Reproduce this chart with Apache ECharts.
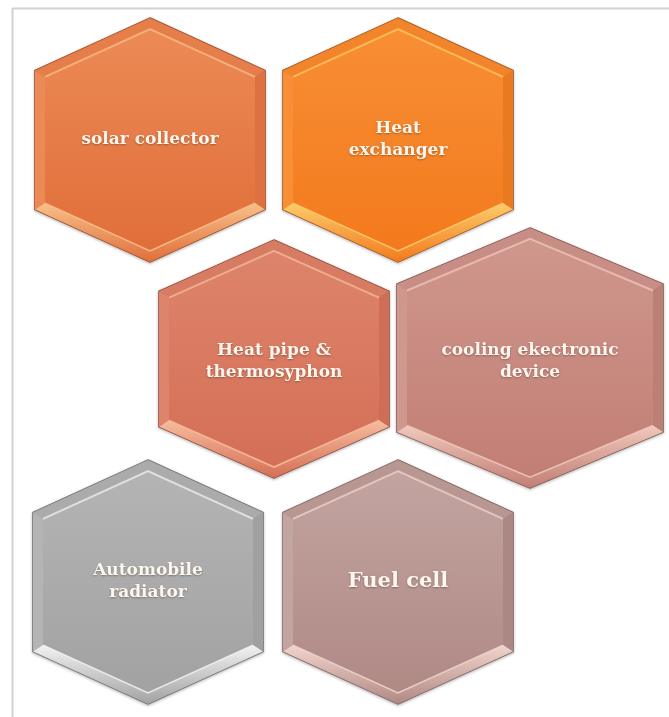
<!DOCTYPE html>
<html><head><meta charset="utf-8">
<script src="https://cdn.jsdelivr.net/npm/echarts@6/dist/echarts.min.js"></script>
<style>html,body{margin:0;padding:0;background:#fff}#c{width:669px;height:717px}</style>
</head><body><div id="c"></div>
<script>
// ---- data ----
const labels = ['solar collector', 'Heat\nexchanger', 'Heat pipe &\nthermosyphon', 'cooling ekectronic\ndevice', 'Automobile\nradiator', 'Fuel cell'];
const centerX = [150, 398, 274, 530, 148, 398];
const centerY = [140, 140, 359, 358, 582, 582];
const halfWidth = [115, 115, 115, 133, 115, 115];
const halfHeight = [122, 122, 119, 130, 122, 122];

// ---- styles ----
const palette = [
  {top:'#EC8A55', bottom:'#E06E3A', dark:'#9A4A25', light:'#F8C08A', side:'#DD7240', band:'#E57E4A'},
  {top:'#F88E35', bottom:'#F37A1C', dark:'#A0521A', light:'#FCCB6A', side:'#EA7A20', band:'#F2852C'},
  {top:'#DE846C', bottom:'#D46F56', dark:'#8E4A3A', light:'#F6BC9C', side:'#CE6E56', band:'#D77B63'},
  {top:'#CF978D', bottom:'#C27E74', dark:'#7E5650', light:'#F0C8BC', side:'#BC7F76', band:'#C88D84'},
  {top:'#B4B4B4', bottom:'#A2A2A2', dark:'#6E6E6E', light:'#F2F2F2', side:'#A0A0A0', band:'#ABABAB'},
  {top:'#C2A4A0', bottom:'#B08985', dark:'#7C605C', light:'#F2D4CC', side:'#AC8884', band:'#B89792'}
];
const fontSizes = [17, 17, 17, 17, 17, 21];
const textCenterShift = [0, 0, 3, 4, 0, 0];

const chart = echarts.init(document.getElementById('c'), null, {renderer:'canvas'});
const seriesData = labels.map((l, i) => [centerX[i], centerY[i], halfWidth[i], halfHeight[i], l]);

function renderItem(params, api) {
  const i = params.dataIndex;
  const cx = api.value(0), cy = api.value(1), w = api.value(2), h = api.value(3);
  const s = h * 0.57;
  const m = (h - s) / w;
  const k = Math.sqrt(1 + m * m);
  const d = 10;
  const P = (dx, dy) => api.coord([cx + dx, cy + dy]);
  const outer = [P(0, -h), P(w, -s), P(w, s), P(0, h), P(-w, s), P(-w, -s)];
  const iy = s - d * (k - m);
  const inner = [P(0, -h + d * k), P(w - d, -iy), P(w - d, iy), P(0, h - d * k), P(-w + d, iy), P(-w + d, -iy)];
  const c = palette[i];
  const band = (a, b, fill, op) => ({
    type:'polygon', shape:{points:[outer[a], outer[b], inner[b], inner[a]]},
    style:{fill:fill, opacity:op}
  });
  const tc = P(0, textCenterShift[i]);
  const children = [
    {type:'polygon', shape:{points:outer}, style:{fill:c.bottom, stroke:c.dark, lineWidth:1.5, shadowColor:'rgba(0,0,0,0.25)', shadowBlur:3, shadowOffsetY:1}},
    band(5, 0, c.band, 1),
    band(0, 1, c.band, 1),
    band(1, 2, c.side, 1),
    band(4, 5, c.top, 1),
    {type:'polygon', shape:{points:[outer[2], outer[3], inner[3], inner[2]]},
      style:{fill:new echarts.graphic.LinearGradient(0,1,0,0,[{offset:0,color:c.bottom},{offset:1,color:c.light}])}},
    {type:'polygon', shape:{points:[outer[3], outer[4], inner[4], inner[3]]},
      style:{fill:new echarts.graphic.LinearGradient(0,1,0,0,[{offset:0,color:c.bottom},{offset:1,color:c.light}])}},
    {type:'polygon', shape:{points:inner},
      style:{fill:new echarts.graphic.LinearGradient(0,0,0,1,[{offset:0,color:c.top},{offset:1,color:c.bottom}])}},
    {type:'polyline', shape:{points:[inner[5], inner[0], inner[1]]},
      style:{stroke:c.light, lineWidth:2, opacity:0.75, fill:null}},
    {type:'polyline', shape:{points:[inner[2], inner[3], inner[4]]},
      style:{stroke:c.light, lineWidth:1.5, opacity:0.9, fill:null}},
    {type:'text', style:{
      text:api.value(4), x:tc[0], y:tc[1],
      textAlign:'center', textVerticalAlign:'middle',
      font:'bold ' + fontSizes[i] + 'px "DejaVu Serif", serif',
      lineHeight: 22,
      fill:'#FFF6EE', textShadowColor:'rgba(0,0,0,0.3)', textShadowBlur:2, textShadowOffsetY:1
    }}
  ];
  return {type:'group', children:children};
}

chart.setOption({
  animation:false,
  backgroundColor:'#ffffff',
  grid:{left:0, right:0, top:0, bottom:0},
  xAxis:{type:'value', min:0, max:669, show:false},
  yAxis:{type:'value', min:0, max:717, inverse:true, show:false},
  graphic:[
    {type:'line', shape:{x1:12, y1:8.5, x2:669, y2:8.5}, style:{stroke:'#D2D2D2', lineWidth:2}},
    {type:'line', shape:{x1:12.5, y1:8, x2:12.5, y2:717}, style:{stroke:'#D2D2D2', lineWidth:2}}
  ],
  series:[{
    type:'custom',
    coordinateSystem:'cartesian2d',
    renderItem:renderItem,
    encode:{x:0, y:1},
    data:seriesData,
    clip:false
  }]
});
</script>
</body></html>
